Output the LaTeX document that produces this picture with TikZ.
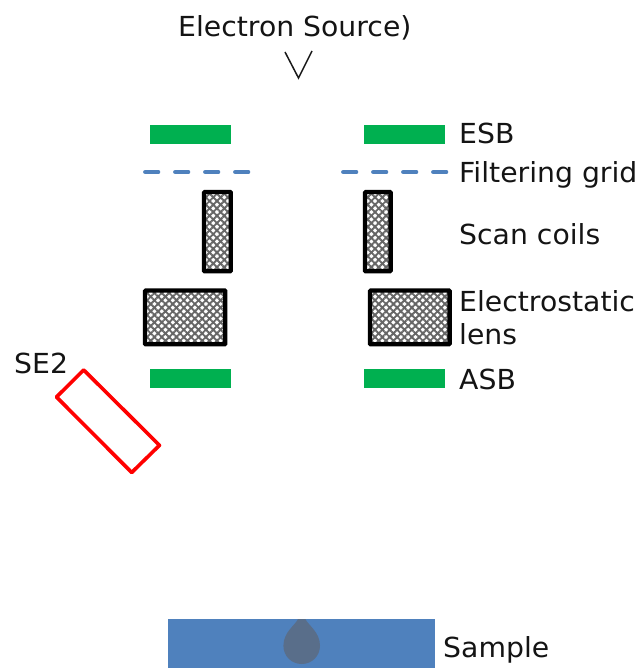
\documentclass[tikz,border=0pt]{standalone}
\usepackage{fontspec}
\setmainfont[FakeStretch=1.025]{DejaVu Sans}
\usetikzlibrary{patterns.meta}
\definecolor{detgreen}{HTML}{00B050}
\definecolor{gridblue}{HTML}{4F81BD}
\definecolor{dropgrey}{HTML}{596E8A}
\tikzset{
  lbl/.style={anchor=base west,inner sep=0pt,font=\fontsize{27.6}{30}\selectfont,text=black!92},
  detector/.style={fill=detgreen,draw=none},
  grid line/.style={draw=gridblue,line width=4.2pt,dash pattern=on 13pt off 17pt,line cap=round},
  coil/.style={draw=black,line width=4.3pt,rounded corners=0.8pt,
    preaction={fill=white},
    preaction={pattern={Hatch[angle=45,distance=5.2pt,line width=1.9pt]},pattern color=black!60}},
}
\begin{document}
\begin{tikzpicture}[x=1pt,y=-1pt]
\useasboundingbox (0,0) rectangle (640,668);
% sample
\fill[gridblue] (168,619) rectangle (435,668);
\fill[dropgrey] (298,619) -- (305.4,619) .. controls (308,625) and (320,632) .. (320,645.7)
  .. controls (320,656) and (312,664) .. (301.7,664)
  .. controls (291.4,664) and (283.4,656) .. (283.4,645.7)
  .. controls (283.4,632) and (295.4,625) .. (298,619) -- cycle;
% source
\coordinate (v1) at (285,52);
\coordinate (v2) at (298.5,78);
\coordinate (v3) at (312,51);
\draw[line width=1.5pt,black!90] (v1) -- (v2) -- (v3);
% detectors
\path[detector] (150,125) rectangle (231,144);
\path[detector] (364,125) rectangle (445,144);
\path[detector] (150,369) rectangle (231,388);
\path[detector] (364,369) rectangle (445,388);
% filtering grid
\coordinate (g1) at (145.2,172);
\coordinate (g2) at (250,172);
\coordinate (g3) at (343.2,172);
\coordinate (g4) at (448,172);
\path[grid line] (g1) -- (g2);
\path[grid line] (g3) -- (g4);
% coils and lens
\path[coil] (204,192) rectangle (230.8,271.3);
\path[coil] (365,192) rectangle (390.6,271.3);
\path[coil] (145,290.5) rectangle (225.3,344.3);
\path[coil] (370,290.5) rectangle (449.6,344.3);
% SE2 detector
\coordinate (s1) at (83.7,370);
\coordinate (s2) at (56.5,397);
\coordinate (s3) at (131.7,472.5);
\coordinate (s4) at (159.5,445.3);
\draw[red,line width=3.6pt,line join=round] (s1) -- (s2) -- (s3) -- (s4) -- cycle;
% labels
\node[lbl] (source) at (178,36.5) {Electron Source)};
\node[lbl] (esb) at (459,144) {ESB};
\node[lbl] (grid) at (459,183) {Filtering grid};
\node[lbl] (scan) at (459,244.5) {Scan coils};
\node[lbl] (lens1) at (459,311.5) {Electrostatic};
\node[lbl] (lens2) at (459,344.5) {lens};
\node[lbl] (asb) at (459,389.5) {ASB};
\node[lbl] (se2) at (14,373.5) {SE2};
\node[lbl] (sample) at (443,657.5) {Sample};
\end{tikzpicture}
\end{document}
